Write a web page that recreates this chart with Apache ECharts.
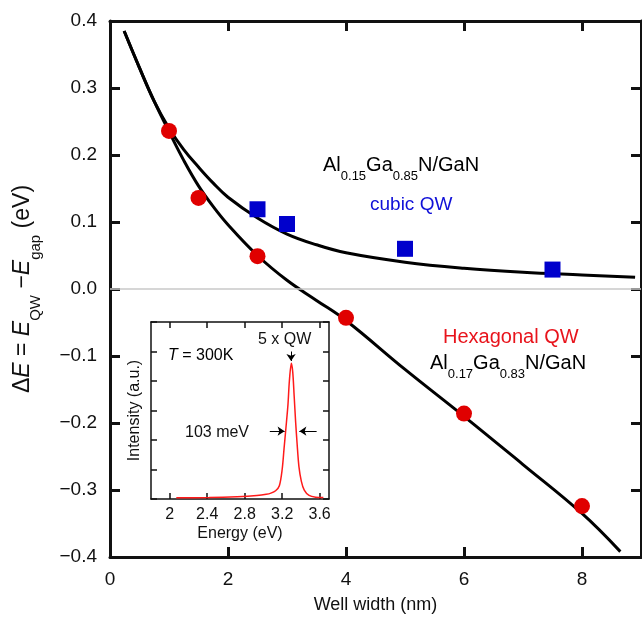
<!DOCTYPE html>
<html>
<head>
<meta charset="utf-8">
<script src="https://cdn.jsdelivr.net/npm/echarts@6/dist/echarts.min.js"></script>
<style>
  html, body { margin: 0; padding: 0; background: #fff; }
  #chart { width: 642px; height: 619px; }
</style>
</head>
<body>
<div id="chart"></div>
<script>
// measured points
const hexWidth = [1, 1.5, 2.5, 4, 6, 8]
const hexDeltaE = [0.236, 0.136, 0.049, -0.043, -0.186, -0.324]
const cubicWidth = [2.5, 3, 5, 7.5]
const cubicDeltaE = [0.119, 0.097, 0.06, 0.029]

// calculated curves
const hexFitWidth = [0.24, 0.5, 0.75, 1, 1.25, 1.5, 1.75, 2, 2.5, 3, 3.5, 4, 5, 6, 7, 8, 8.65]
const hexFitDeltaE = [0.385, 0.33, 0.28, 0.235, 0.192, 0.154, 0.123, 0.096, 0.05, 0.013, -0.017, -0.047, -0.12, -0.19, -0.262, -0.335, -0.392]
const cubicFitWidth = [0.24, 0.5, 0.75, 1, 1.25, 1.5, 1.75, 2, 2.5, 3, 3.5, 4, 5, 6, 7, 8, 8.9]
const cubicFitDeltaE = [0.385, 0.33, 0.28, 0.24, 0.208, 0.182, 0.158, 0.137, 0.106, 0.082, 0.066, 0.054, 0.04, 0.031, 0.025, 0.021, 0.0175]

// inset PL spectrum
const energy = [2.07, 2.42, 2.72, 2.93, 3.03, 3.08, 3.13, 3.17, 3.2, 3.22, 3.24, 3.262, 3.277, 3.298, 3.313, 3.328, 3.344, 3.359, 3.379, 3.405, 3.436, 3.487, 3.558, 3.64]
const intensity = [0.04, 0.05, 0.08, 0.12, 0.16, 0.2, 0.28, 0.45, 1.0, 1.7, 2.4, 3.2, 4.0, 4.6, 4.3, 3.5, 2.6, 1.9, 1.1, 0.6, 0.3, 0.12, 0.06, 0.05]
const energyTicks = [2, 2.4, 2.8, 3.2, 3.6]

const zip = (a, b) => a.map((v, i) => [v, b[i]])

const FONT = 'Liberation Sans, Arial, sans-serif'
const INK = '#111'

// rich styles: n normal, i italic, s subscript
const richFormula = (size, lh) => ({
  n: { fontSize: size, lineHeight: lh, color: INK, fontFamily: FONT },
  i: { fontSize: size, lineHeight: lh, color: INK, fontFamily: FONT, fontStyle: 'italic' },
  s: { fontSize: Math.round(size * 0.66), lineHeight: Math.round(size * 0.68), color: INK, fontFamily: FONT, verticalAlign: 'bottom' },
})

const mainAxisLine = { show: true, onZero: false, lineStyle: { color: INK, width: 3 } }
const mainTick = { show: true, inside: true, length: 10, lineStyle: { color: INK, width: 3 } }
const insetAxisLine = { show: true, onZero: false, lineStyle: { color: INK, width: 1.5 } }
const insetTick = { show: true, inside: true, length: 6, lineStyle: { color: INK, width: 1.5 } }

const chart = echarts.init(document.getElementById('chart'))

const option = {
  backgroundColor: '#fff',
  animation: false,
  grid: [
    { left: 110, right: 1, top: 21, bottom: 62 },
    { left: 151, top: 322, width: 178, height: 177, show: true, backgroundColor: '#fff', borderWidth: 0 },
  ],
  xAxis: [
    {
      gridIndex: 0, type: 'value', min: 0, max: 9, interval: 2, position: 'bottom',
      axisLine: mainAxisLine, axisTick: mainTick, splitLine: { show: false },
      axisLabel: { color: INK, fontSize: 19, fontFamily: FONT, margin: 13, showMaxLabel: false },
      name: 'Well width (nm)', nameLocation: 'middle', nameGap: 39,
      nameTextStyle: { color: INK, fontSize: 18, fontFamily: FONT },
    },
    {
      gridIndex: 0, type: 'value', min: 0, max: 9, interval: 2, position: 'top',
      axisLine: mainAxisLine, axisTick: mainTick, splitLine: { show: false }, axisLabel: { show: false },
    },
    {
      gridIndex: 1, type: 'value', min: 1.8, max: 3.7, position: 'bottom',
      axisLine: insetAxisLine,
      axisTick: Object.assign({ customValues: energyTicks }, insetTick),
      splitLine: { show: false },
      axisLabel: { customValues: energyTicks, color: INK, fontSize: 16, fontFamily: FONT, margin: 8 },
      name: 'Energy (eV)', nameLocation: 'middle', nameGap: 27,
      nameTextStyle: { color: INK, fontSize: 16, fontFamily: FONT },
    },
    {
      gridIndex: 1, type: 'value', min: 1.8, max: 3.7, position: 'top',
      axisLine: insetAxisLine,
      axisTick: Object.assign({ customValues: energyTicks }, insetTick),
      splitLine: { show: false }, axisLabel: { show: false },
    },
  ],
  yAxis: [
    {
      gridIndex: 0, type: 'value', min: -0.4, max: 0.4, interval: 0.1, position: 'left',
      axisLine: mainAxisLine, axisTick: mainTick, splitLine: { show: false },
      axisLabel: {
        color: INK, fontSize: 19, fontFamily: FONT, margin: 13,
        formatter: (v) => v.toFixed(1).replace('-', '\u2212'),
      },
      name: '{n|\u0394}{i|E}{n| = }{i|E}{s|QW}{n| \u2212}{i|E}{s|gap}{n| (eV)}',
      nameLocation: 'middle', nameGap: 67, nameRotate: 90,
      nameTextStyle: { rich: richFormula(23, 40) },
    },
    {
      gridIndex: 0, type: 'value', min: -0.4, max: 0.4, interval: 0.1, position: 'right',
      axisLine: mainAxisLine, axisTick: mainTick, splitLine: { show: false }, axisLabel: { show: false },
    },
    {
      gridIndex: 1, type: 'value', min: 0, max: 6, interval: 1, position: 'left',
      axisLine: insetAxisLine, axisTick: insetTick, splitLine: { show: false }, axisLabel: { show: false },
      name: 'Intensity (a.u.)', nameLocation: 'middle', nameGap: 8,
      nameTextStyle: { color: INK, fontSize: 16, fontFamily: FONT },
    },
    {
      gridIndex: 1, type: 'value', min: 0, max: 6, interval: 1, position: 'right',
      axisLine: insetAxisLine, axisTick: insetTick, splitLine: { show: false }, axisLabel: { show: false },
    },
  ],
  series: [
    {
      name: 'hex fit', type: 'line', xAxisIndex: 0, yAxisIndex: 0,
      data: zip(hexFitWidth, hexFitDeltaE), smooth: 0.4, showSymbol: false,
      lineStyle: { color: '#000', width: 3 },
      markLine: {
        silent: true, symbol: ['none', 'none'], label: { show: false },
        lineStyle: { color: '#c8c8c8', width: 1.5, type: 'solid' },
        data: [{ yAxis: 0 }],
      },
      z: 3,
    },
    {
      name: 'cubic fit', type: 'line', xAxisIndex: 0, yAxisIndex: 0,
      data: zip(cubicFitWidth, cubicFitDeltaE), smooth: 0.4, showSymbol: false,
      lineStyle: { color: '#000', width: 3 }, z: 3,
    },
    {
      name: 'hexagonal', type: 'scatter', xAxisIndex: 0, yAxisIndex: 0,
      data: zip(hexWidth, hexDeltaE), symbol: 'circle', symbolSize: 16,
      itemStyle: { color: '#e00000', opacity: 1 }, z: 4,
    },
    {
      name: 'cubic', type: 'scatter', xAxisIndex: 0, yAxisIndex: 0,
      data: zip(cubicWidth, cubicDeltaE), symbol: 'rect', symbolSize: 16,
      itemStyle: { color: '#0000cc', opacity: 1 }, z: 4,
    },
    {
      name: 'PL', type: 'line', xAxisIndex: 2, yAxisIndex: 2,
      data: zip(energy, intensity), smooth: 0.3, showSymbol: false,
      lineStyle: { color: '#ff1a1a', width: 1.5 },
      markLine: {
        silent: true, symbol: ['none', 'arrow'], symbolSize: 7, label: { show: false },
        lineStyle: { color: '#000', width: 1, type: 'solid' },
        data: [
          [{ coord: [3.068, 2.3] }, { coord: [3.226, 2.3] }],
          [{ coord: [3.568, 2.3] }, { coord: [3.384, 2.3] }],
          [{ coord: [3.295, 5.0] }, { coord: [3.295, 4.68] }],
        ],
      },
    },
  ],
  graphic: [
    {
      type: 'text', x: 323, y: 165,
      style: {
        text: '{n|Al}{s|0.15}{n|Ga}{s|0.85}{n|N/GaN}',
        rich: richFormula(20, 36), verticalAlign: 'middle',
      },
    },
    {
      type: 'text', x: 370, y: 205,
      style: { text: 'cubic QW', fill: '#1010d8', font: '19px ' + FONT, verticalAlign: 'middle' },
    },
    {
      type: 'text', x: 443, y: 337,
      style: { text: 'Hexagonal QW', fill: '#e8141c', font: '20px ' + FONT, verticalAlign: 'middle' },
    },
    {
      type: 'text', x: 430, y: 363,
      style: {
        text: '{n|Al}{s|0.17}{n|Ga}{s|0.83}{n|N/GaN}',
        rich: richFormula(20, 36), verticalAlign: 'middle',
      },
    },
    {
      type: 'text', x: 168, y: 356,
      style: {
        text: '{i|T}{n| = 300K}',
        rich: {
          n: { fontSize: 16, color: INK, fontFamily: FONT },
          i: { fontSize: 16, color: INK, fontFamily: FONT, fontStyle: 'italic' },
        },
        verticalAlign: 'middle',
      },
    },
    {
      type: 'text', x: 258, y: 340,
      style: { text: '5 x QW', fill: INK, font: '16px ' + FONT, verticalAlign: 'middle' },
    },
    {
      type: 'text', x: 185, y: 433,
      style: { text: '103 meV', fill: INK, font: '16px ' + FONT, verticalAlign: 'middle' },
    },
  ],
}

chart.setOption(option)
</script>
</body>
</html>
